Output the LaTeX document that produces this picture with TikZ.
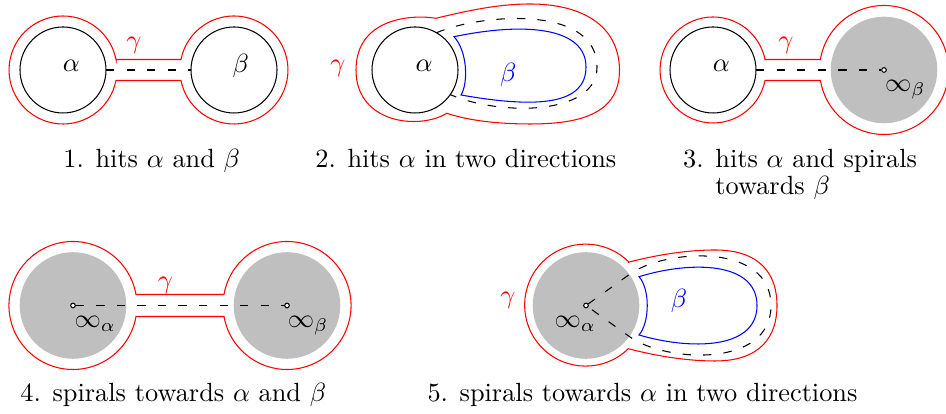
\documentclass[tikz,border=0pt]{standalone}
\usepackage{amsmath,amssymb}
\usepackage{xcolor}
\usepackage{tikz}
\newcommand\pxu{0.38pt}

\begin{document}
\begin{tikzpicture}[x=\pxu,y=\pxu,
  hole/.style={circle,draw,inner sep=0pt,outer sep=0pt,minimum size=86*\pxu},
  cusp/.style={circle,fill=black!25,inner sep=0pt,outer sep=0pt,minimum size=106.6*\pxu},
  pole/.style={circle,draw,fill=white,inner sep=0pt,minimum size=4.6*\pxu},
  gammacurve/.style={red},
  betacurve/.style={blue},
  arcpath/.style={dash pattern=on 3.2pt off 4.6pt},
  capt/.style={anchor=base}]
\useasboundingbox (0,0) rectangle (946,414);
\node[hole] (A1) at (63,344) {};
\node[hole] (B1) at (234,344) {};
\draw[gammacurve] (116,354.5) -- (181,354.5) arc[start angle=168.79,end angle=-168.79,radius=54] -- (116,333.5) arc[start angle=-11.21,end angle=-348.79,radius=54] -- cycle;
\draw[arcpath] (A1) -- (B1);
\node (a1) at (71.3,348.5) {$\alpha$};
\node (b1) at (240.8,348.5) {$\beta$};
\node[gammacurve] (g1) at (134,368.5) {$\gamma$};
\node[capt] (c1) at (151.7,246.7) {1. hits $\alpha$ and $\beta$};
\node[hole] (A2) at (415,344) {};
\draw[betacurve] (454,377.3) .. controls (468,362) and (468,330) .. (461,319) .. controls (540,305) and (586,310) .. (586,347) .. controls (586,385) and (530,393) .. cycle;
\draw[arcpath] (A2.60) .. controls (480,400) and (597,410) .. (597,347) .. controls (597,298) and (500,298) .. (A2.-35);
\draw[gammacurve] (436,395.7) .. controls (470,404) and (500,410) .. (530,410) .. controls (580,410) and (619,390) .. (619.5,344) .. controls (619.5,300) and (580,290) .. (530,290) .. controls (500,290) and (470,293) .. (446.7,300.7) .. controls (420,284) and (356,290) .. (356,344) .. controls (356,395) and (410,400) .. cycle;
\node (a2) at (424.2,348.2) {$\alpha$};
\node[betacurve] (b2) at (508.2,339.3) {$\beta$};
\node[gammacurve] (g2) at (338,345.7) {$\gamma$};
\node[capt] (c2) at (465.8,246.7) {2. hits $\alpha$ in two directions};
\node[cusp] (D3) at (884,344) {};
\node[hole] (A3) at (713,344) {};
\draw[gammacurve] (765,354.5) -- (820.4,354.5) arc[start angle=170.63,end angle=-170.63,radius=64.5] -- (765,333.5) arc[start angle=-11.43,end angle=-348.57,radius=53] -- cycle;
\node[pole] (o3) at (884,344) {};
\draw[arcpath] (A3) -- (o3);
\node (a3) at (721.3,348.2) {$\alpha$};
\node[gammacurve] (g3) at (785.8,368.5) {$\gamma$};
\node[anchor=base west,inner sep=0pt] (i3) at (884.5,322) {$\infty_\beta$};
\node[anchor=base west,align=left,inner sep=0pt] (c3) at (682.7,219) {3. hits $\alpha$ and spirals\\[-1.7pt]\hspace*{12.2pt}towards $\beta$};
\node[cusp] (D4a) at (73,108.5) {};
\node[cusp] (D4b) at (287,108.5) {};
\draw[gammacurve] (136,119.5) -- (224,119.5) arc[start angle=170.1,end angle=-170.1,radius=64] -- (136,97.5) arc[start angle=-9.9,end angle=-350.1,radius=64] -- cycle;
\node[pole] (o4a) at (73,108.5) {};
\node[pole] (o4b) at (287,108.5) {};
\draw[arcpath] (o4a) -- (o4b);
\node[anchor=base west,inner sep=0pt] (i4a) at (74,86) {$\infty_\alpha$};
\node[anchor=base west,inner sep=0pt] (i4b) at (287.3,86) {$\infty_\beta$};
\node[gammacurve] (g4) at (165.3,129) {$\gamma$};
\node[capt] (c4) at (173.3,12.3) {4. spirals towards $\alpha$ and $\beta$};
\node[cusp] (D5) at (586,108.5) {};
\draw[betacurve] (639,137.3) .. controls (650,125) and (650,92) .. (639,79) .. controls (690,64) and (757,64) .. (757,108.5) .. controls (757,153) and (690,153) .. cycle;
\draw[gammacurve] (628.3,151.7) .. controls (660,160) and (690,164) .. (715,164) .. controls (760,164) and (777,140) .. (777,108.5) .. controls (777,77) and (760,53) .. (715,53) .. controls (690,53) and (660,57) .. (628.3,65.3) arc[start angle=-45.6,end angle=-314.4,radius=61] -- cycle;
\node[pole] (o5) at (586,108.5) {};
\draw[arcpath] (o5.35) -- (630,140) .. controls (665,165) and (771,172) .. (771,108.5) .. controls (771,45) and (665,52) .. (630,77) -- (o5.-35);
\node[anchor=base west,inner sep=0pt] (i5) at (554,86.7) {$\infty_\alpha$};
\node[gammacurve] (g5) at (508,114) {$\gamma$};
\node[betacurve] (b5) at (679,113) {$\beta$};
\node[capt] (c5) at (642.5,12.3) {5. spirals towards $\alpha$ in two directions};
\end{tikzpicture}
\end{document}
